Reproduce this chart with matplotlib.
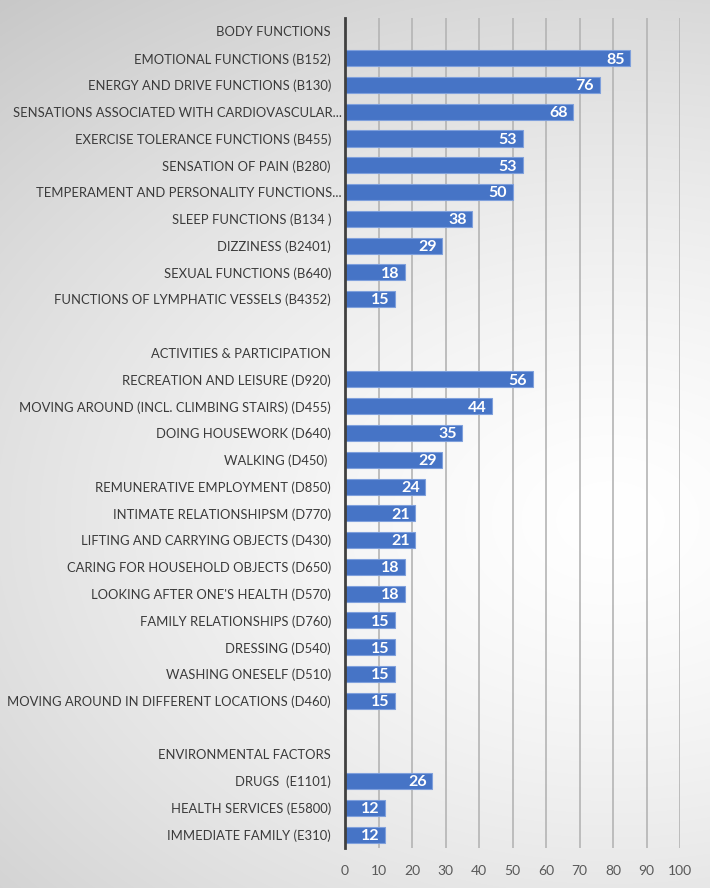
import numpy as np
import matplotlib
matplotlib.use("Agg")
import matplotlib.pyplot as plt

plt.rcParams['font.family'] = ['Lato', 'DejaVu Sans']

body_labels = ["EMOTIONAL FUNCTIONS (B152)", "ENERGY AND DRIVE FUNCTIONS (B130)",
               "SENSATIONS ASSOCIATED WITH CARDIOVASCULAR...", "EXERCISE TOLERANCE FUNCTIONS (B455)",
               "SENSATION OF PAIN (B280)", "TEMPERAMENT AND PERSONALITY FUNCTIONS...",
               "SLEEP FUNCTIONS (B134 )", "DIZZINESS (B2401)", "SEXUAL FUNCTIONS (B640)",
               "FUNCTIONS OF LYMPHATIC VESSELS (B4352)"]
body_values = [85, 76, 68, 53, 53, 50, 38, 29, 18, 15]

act_labels = ["RECREATION AND LEISURE (D920)", "MOVING AROUND (INCL. CLIMBING STAIRS) (D455)",
              "DOING HOUSEWORK (D640)", "WALKING (D450) ", "REMUNERATIVE EMPLOYMENT (D850)",
              "INTIMATE RELATIONSHIPSM (D770)", "LIFTING AND CARRYING OBJECTS (D430)",
              "CARING FOR HOUSEHOLD OBJECTS (D650)", "LOOKING AFTER ONE'S HEALTH (D570)",
              "FAMILY RELATIONSHIPS (D760)", "DRESSING (D540)", "WASHING ONESELF (D510)",
              "MOVING AROUND IN DIFFERENT LOCATIONS (D460)"]
act_values = [56, 44, 35, 29, 24, 21, 21, 18, 18, 15, 15, 15, 15]

env_labels = ["DRUGS  (E1101)", "HEALTH SERVICES (E5800)", "IMMEDIATE FAMILY (E310)"]
env_values = [26, 12, 12]

headers = ["BODY FUNCTIONS", "ACTIVITIES & PARTICIPATION", "ENVIRONMENTAL FACTORS"]
x_ticks = [0, 10, 20, 30, 40, 50, 60, 70, 80, 90, 100]

# assemble rows (None value = header / blank row)
labels, values = [], []
for i, (h, ls, vs) in enumerate([(headers[0], body_labels, body_values),
                                 (headers[1], act_labels, act_values),
                                 (headers[2], env_labels, env_values)]):
    if i > 0:
        labels.append("")
        values.append(None)
    labels.append(h)
    values.append(None)
    labels.extend(ls)
    values.extend(vs)

fig = plt.figure(figsize=(7.1, 8.88), dpi=100)

# radial gradient background
bg = fig.add_axes([0, 0, 1, 1], zorder=-10)
W, H = 710, 888
xx, yy = np.meshgrid(np.arange(W), np.arange(H))
cx, cy = 610, 520
d = np.sqrt(((xx - cx) / 1.4) ** 2 + (yy - cy) ** 2) / 678.0
v = 1.0 - 0.216 * np.clip(d, 0, 1.3) ** 1.4
img = np.dstack([v, v, v])
bg.imshow(img, aspect='auto', extent=[0, 1, 0, 1], origin='upper')
bg.set_axis_off()

ax = fig.add_axes([345 / 710, 1 - 848 / 888, (680 - 345) / 710, (848 - 18) / 888])
ax.patch.set_alpha(0)

n = len(labels)
ypos = np.arange(n)
for y, val in zip(ypos, values):
    if val is None:
        continue
    ax.barh(y, val, height=0.6, color='#4674C6', edgecolor='#7fa0dc', linewidth=0.8, zorder=3)
    ax.text(val - 1.6, y + 0.05, str(val), ha='right', va='center', color='white',
            fontsize=11.5, fontweight='bold', zorder=4)

for y, lab in zip(ypos, labels):
    if not lab:
        continue
    pad = 3 if lab.endswith('...') else 14
    ax.annotate(lab, xy=(0, y + 0.04), xycoords=('axes fraction', 'data'),
                xytext=(-pad, 0), textcoords='offset pixels',
                ha='right', va='center', fontsize=9.4, color='#3a3a3a')

ax.set_ylim(n - 0.5, -0.5)
ax.set_xlim(0, 100)
ax.set_yticks([])
ax.set_xticks(x_ticks)
ax.set_xticklabels([str(t) for t in x_ticks], fontsize=10, color='#595959')
ax.tick_params(axis='x', length=0, pad=12)
for t in x_ticks[1:]:
    ax.axvline(t, color='#b4b4b4', linewidth=1.2, zorder=1)
for s in ['top', 'right', 'bottom']:
    ax.spines[s].set_visible(False)
ax.spines['left'].set_color('#404040')
ax.spines['left'].set_linewidth(2)
ax.spines['left'].set_zorder(5)

fig.savefig('out.png', dpi=100)
